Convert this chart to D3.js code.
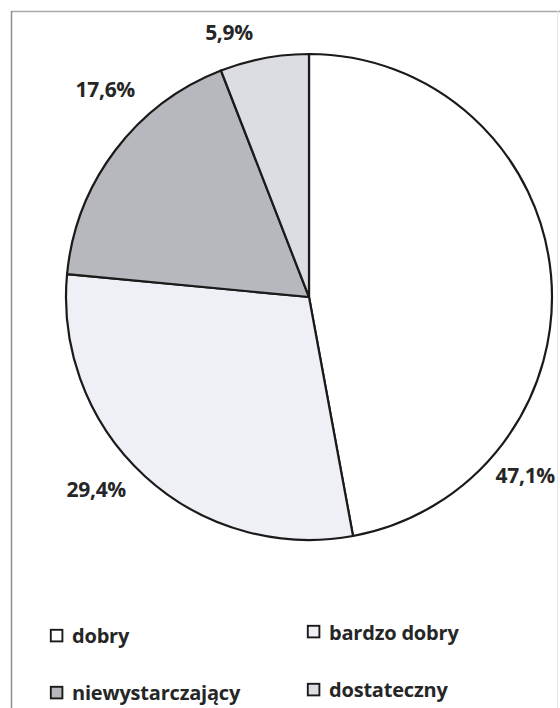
<!DOCTYPE html>
<html><head><meta charset="utf-8">
<script src="https://cdn.jsdelivr.net/npm/d3@7/dist/d3.min.js"></script>
<style>body{margin:0;background:#fff}svg{display:block}</style>
</head><body>
<script>
const categories = ["dobry", "bardzo dobry", "niewystarczający", "dostateczny"];
const values = [47.1, 29.4, 17.6, 5.9];
const labels = ["47,1%", "29,4%", "17,6%", "5,9%"];
const colors = ["#ffffff", "#eef0f5", "#b7b8bd", "#dcdde3"];

const W = 560, H = 708;
const svg = d3.select("body").append("svg").attr("width", W).attr("height", H);
// frame
svg.append("line").attr("x1", 11).attr("x2", 560).attr("y1", 11.5).attr("y2", 11.5)
  .attr("stroke", "#a8a8a8").attr("stroke-width", 1.5);
svg.append("line").attr("x1", 11.5).attr("x2", 11.5).attr("y1", 11).attr("y2", 708)
  .attr("stroke", "#8e8e8e").attr("stroke-width", 1.5);
svg.append("line").attr("x1", 557.5).attr("x2", 557.5).attr("y1", 11).attr("y2", 708)
  .attr("stroke", "#e6e6e6").attr("stroke-width", 1);

const cx = 309, cy = 297, r = 243;
const pie = d3.pie().sort(null).value(d => d)(values);
const arc = d3.arc().innerRadius(0).outerRadius(r);
const g = svg.append("g").attr("transform", `translate(${cx},${cy})`);
g.selectAll("path").data(pie).join("path")
  .attr("d", arc).attr("fill", (d, i) => colors[i])
  .attr("stroke", "#1a1a1a").attr("stroke-width", 2.2).attr("stroke-linejoin", "round");

const font = "'Open Sans', 'Liberation Sans', sans-serif";
const labelPos = [[555, 483, "end"], [126, 497, "end"], [135, 97, "end"], [229, 40, "middle"]];
pie.forEach((d, i) => {
  const [x, y, anc] = labelPos[i];
  svg.append("text").attr("x", x).attr("y", y).attr("text-anchor", anc)
    .attr("font-family", font).attr("font-weight", 700).attr("font-size", 21)
    .attr("fill", "#262626").attr("letter-spacing", -0.3).text(labels[i]);
});

// legend
const legPos = [[50, 629, 643], [307, 625, 640], [50, 686, 700], [307, 683, 697]];
categories.forEach((c, i) => {
  const [x, sy, by] = legPos[i];
  svg.append("rect").attr("x", x + 0.8).attr("y", sy + 0.8).attr("width", 11.6).attr("height", 11.6)
    .attr("fill", colors[i]).attr("stroke", "#1a1a1a").attr("stroke-width", 1.9);
  svg.append("text").attr("x", x + 22).attr("y", by)
    .attr("font-family", font).attr("font-weight", 700).attr("font-size", 20)
    .attr("fill", "#262626").attr("letter-spacing", -0.2).text(c);
});
</script>
</body></html>
